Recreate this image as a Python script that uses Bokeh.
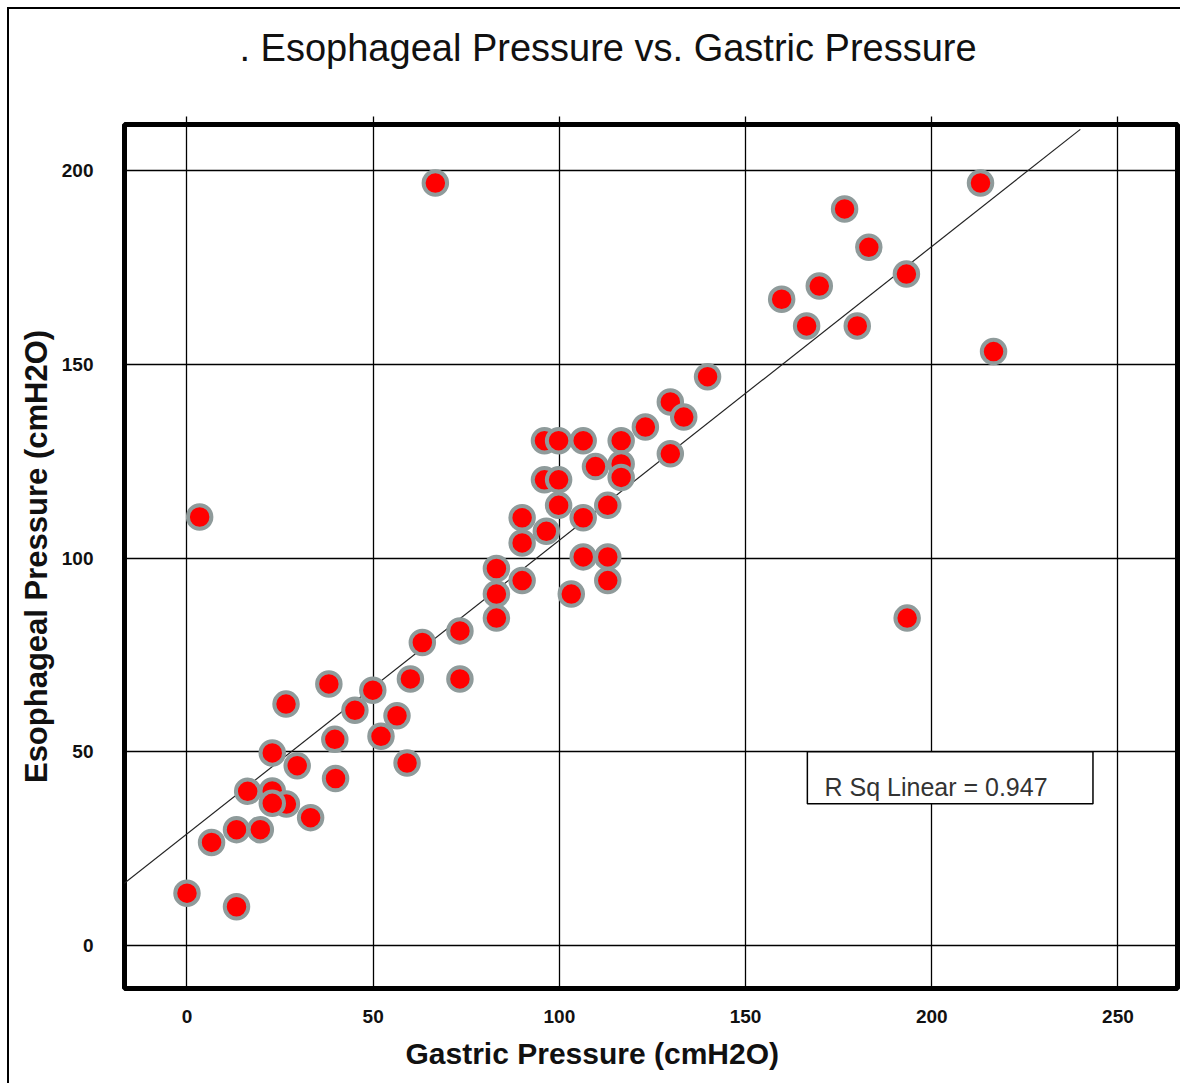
from bokeh.plotting import figure
from bokeh.models import FixedTicker, LinearAxis, Label, CustomJSTickFormatter, Range1d, Title
from bokeh.embed import file_html
from bokeh.resources import INLINE

# ---- data ----
gastric = [66.7, 3.4, 213.1, 176.6, 183.1, 193.2, 169.8, 159.7, 166.4, 180.0,
           216.6, 193.4, 139.8, 129.8, 133.4, 123.1, 96.0, 99.8, 106.4, 116.6,
           129.8, 109.7, 116.6, 116.6, 96.0, 99.8, 99.8, 113.0, 90.0, 106.4,
           96.5, 90.0, 106.4, 113.0, 83.1, 90.0, 113.0, 83.1, 103.2, 83.1,
           63.2, 73.3, 38.1, 26.6, 49.9, 60.0, 73.3, 45.1, 56.4, 39.7,
           52.1, 59.1, 22.9, 29.6, 39.9, 16.3, 22.9, 26.7, 22.9, 33.2,
           13.3, 19.7, 6.6, 0.0, 13.3]
esophageal = [196.8, 110.6, 196.8, 190.1, 180.2, 173.3, 170.2, 166.8, 159.9, 159.9,
              153.3, 84.5, 146.8, 140.3, 136.4, 133.8, 130.3, 130.3, 130.3, 130.3,
              126.9, 123.6, 124.3, 120.8, 120.2, 120.2, 113.6, 113.6, 110.4, 110.4,
              106.9, 103.9, 100.3, 100.3, 97.3, 94.2, 94.2, 90.7, 90.7, 84.5,
              78.2, 81.2, 67.5, 62.3, 65.9, 68.8, 68.8, 60.7, 59.3, 53.2,
              54.0, 47.1, 49.7, 46.4, 43.1, 39.8, 39.9, 36.5, 36.7, 33.0,
              29.9, 29.9, 26.6, 13.5, 10.0]
x_ticks = [0, 50, 100, 150, 200, 250]
y_ticks = [0, 50, 100, 150, 200]
fit_slope = 0.758
fit_intercept = 28.8
fit_x = [-20.3, 239.9]
r_sq_text = "R Sq Linear = 0.947"
title_text = ". Esophageal Pressure vs. Gastric Pressure"
x_label = "Gastric Pressure (cmH2O)"
y_label = "Esophageal Pressure (cmH2O)"

FONT = "Liberation Sans"

p = figure(width=1173, height=1076,
           x_range=Range1d(-16.78, 266.0), y_range=Range1d(-11.1, 211.9),
           output_backend="svg", toolbar_location=None,
           min_border_left=115, min_border_right=5,
           min_border_top=115, min_border_bottom=97,
           background_fill_color="white", border_fill_color="white",
           title=None)
p.styles = {"margin-left": "7px", "margin-top": "7px",
            "border-left": "2px solid black", "border-top": "2px solid black"}

p.outline_line_color = "black"
p.outline_line_width = 5

# grid
p.xgrid.ticker = FixedTicker(ticks=x_ticks)
p.ygrid.ticker = FixedTicker(ticks=y_ticks)
for g in (p.xgrid, p.ygrid):
    g.grid_line_color = "black"
    g.grid_line_width = 1.3

# axes
for ax in (p.xaxis, p.yaxis):
    ax.axis_line_color = None
    ax.major_tick_line_color = None
    ax.minor_tick_line_color = None
    ax.major_tick_in = 0
    ax.major_tick_out = 0
    ax.major_label_text_font = FONT
    ax.major_label_text_font_style = "bold"
    ax.major_label_text_font_size = "19px"
    ax.major_label_text_color = "#111111"
p.xaxis.ticker = FixedTicker(ticks=x_ticks)
p.yaxis.ticker = FixedTicker(ticks=y_ticks)
p.xaxis.major_label_standoff = 21
p.yaxis.major_label_standoff = 31
p.yaxis.axis_label = y_label
p.yaxis.axis_label_text_font = FONT
p.yaxis.axis_label_text_font_style = "bold"
p.yaxis.axis_label_text_font_size = "31px"
p.yaxis.axis_label_text_color = "#111111"
p.yaxis.axis_label_standoff = 5

# outward ticks along the top edge (no labels); a blank axis label reserves room under the title
top_axis = LinearAxis(ticker=FixedTicker(ticks=x_ticks),
                      formatter=CustomJSTickFormatter(code="return ''"),
                      axis_line_color=None, major_tick_in=0, major_tick_out=8,
                      major_tick_line_color="black", major_tick_line_width=1.3,
                      minor_tick_line_color=None, major_label_standoff=0,
                      major_label_text_font_size="0px",
                      axis_label=" ", axis_label_text_font_size="20px",
                      axis_label_text_color="white", axis_label_standoff=18)
p.add_layout(top_axis, "above")

# title (above) and x-axis label (below) as titles, offset from the frame's left edge
p.add_layout(Title(text=title_text, align="left", offset=115, standoff=10,
                   text_font=FONT, text_font_size="38px",
                   text_font_style="normal", text_color="#111111"), "above")
p.add_layout(Title(text=x_label, align="left", offset=281, standoff=18,
                   text_font=FONT, text_font_size="30px",
                   text_font_style="bold", text_color="#111111"), "below")

# fit line
fit_y = [fit_intercept + fit_slope * v for v in fit_x]
p.line(fit_x, fit_y, line_color="#222222", line_width=1.2)

# points
p.scatter(gastric, esophageal, size=23.5, fill_color="#ff0000",
          line_color="#8f9b9b", line_width=4)

# R sq box
p.quad(left=[166.6], right=[243.3], top=[50], bottom=[36.6],
       fill_color="white", line_color="black", line_width=1.5)
p.add_layout(Label(x=171.2, y=40.8, text=r_sq_text, text_font=FONT,
                   text_font_size="25px", text_color="#333333",
                   text_baseline="alphabetic", text_align="left"))

open("out.html", "w").write(file_html(p, INLINE))
